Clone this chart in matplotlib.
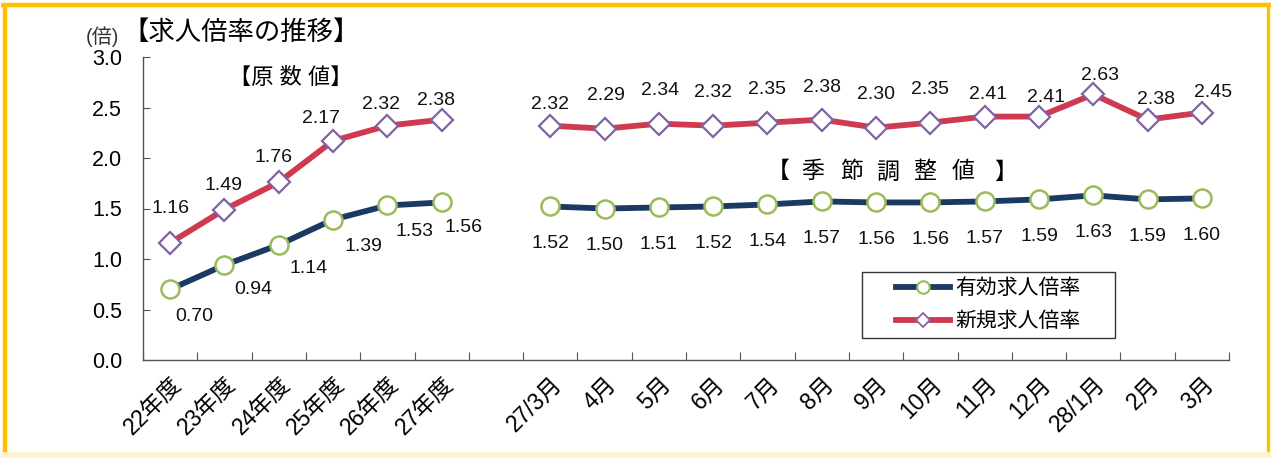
import matplotlib
matplotlib.use("Agg")
import matplotlib.pyplot as plt
from matplotlib.lines import Line2D
from matplotlib.patches import Rectangle
import numpy as np

plt.rcParams['font.family'] = ['Liberation Sans', 'Noto Sans CJK JP']

# データ
categories = ['22年度', '23年度', '24年度', '25年度', '26年度', '27年度', '',
              '27/3月', '4月', '5月', '6月', '7月', '8月', '9月', '10月',
              '11月', '12月', '28/1月', '2月', '3月']
yuko = [0.70, 0.94, 1.14, 1.39, 1.53, 1.56, np.nan,
        1.52, 1.50, 1.51, 1.52, 1.54, 1.57, 1.56, 1.56, 1.57, 1.59, 1.63, 1.59, 1.60]
shinki = [1.16, 1.49, 1.76, 2.17, 2.32, 2.38, np.nan,
          2.32, 2.29, 2.34, 2.32, 2.35, 2.38, 2.30, 2.35, 2.41, 2.41, 2.63, 2.38, 2.45]

# ラベル位置 (pixel, x右 / y下)
yuko_off = [(24, 27), (29, 24), (30, 24), (30, 27), (27, 26), (22, 25), None] + [(0, 37)] * 13
shinki_off = [(0, -34), (-1, -24), (-5, -25), (-12, -22), (-6, -21), (-6, -19), None,
              (0, -21), (1, -33), (1, -33), (0, -33), (0, -33), (0, -32), (0, -33),
              (0, -33), (3, -22), (7, -19), (7, -19), (8, -20), (11, -20)]

NAVY = '#1B3A63'
RED = '#D03A50'
GREEN = '#9BBB59'
PURPLE = '#8064A2'
W, H = 1272, 458

fig = plt.figure(figsize=(12.72, 4.58), dpi=100)
ax = fig.add_axes([143 / W, 1 - 360 / H, 1086 / W, 303 / H])

x = np.arange(len(categories)) + 0.5

ax.plot(x, yuko, color=NAVY, lw=4.2, marker='o', ms=13, mfc='white',
        mec=GREEN, mew=1.8, zorder=3)
ax.plot(x, shinki, color=RED, lw=4.2, marker='D', ms=11.5, mfc='white',
        mec=PURPLE, mew=1.6, zorder=3)

px = 0.72  # pixel -> point
for i, (a, b) in enumerate(zip(yuko, shinki)):
    if np.isnan(a):
        continue
    oa = yuko_off[i]
    ob = shinki_off[i]
    ax.annotate('%.2f' % a, (x[i], a), xytext=(oa[0] * px, -oa[1] * px),
                textcoords='offset points', ha='center', va='center',
                fontsize=14, color='#111111')
    ax.annotate('%.2f' % b, (x[i], b), xytext=(ob[0] * px, -ob[1] * px),
                textcoords='offset points', ha='center', va='center',
                fontsize=14, color='#111111')

ax.set_xlim(0, len(categories))
ax.set_ylim(0, 3.0)
yt = np.arange(0, 3.01, 0.5)
ax.set_yticks(yt)
ax.set_yticklabels(['%.1f' % v for v in yt], fontsize=15.5)
ax.set_xticks(np.arange(0, len(categories) + 1))
ax.set_xticklabels([])
ax.set_xticks(x, minor=True)
ax.set_xticklabels(categories, minor=True, rotation=45, ha='right', va='top',
                   rotation_mode='anchor', fontsize=16.5)
ax.tick_params(axis='x', which='minor', length=0, pad=9)
ax.tick_params(axis='x', which='major', direction='in', length=6, color='#555555')
ax.tick_params(axis='y', direction='in', length=5, color='#555555', pad=15)
for s in ['top', 'right']:
    ax.spines[s].set_visible(False)
for s in ['left', 'bottom']:
    ax.spines[s].set_color('#555555')
    ax.spines[s].set_linewidth(1.0)

# 見出し
fig.text(291 / W, 1 - 78 / H, '【原 数 値】', ha='center', va='center', fontsize=16)
for ch, cx in zip('季節調整値', [813, 852, 888, 925, 963]):
    fig.text(cx / W, 1 - 172 / H, ch, ha='center', va='center', fontsize=16.5)
fig.text(790 / W, 1 - 172 / H, '【', ha='right', va='center', fontsize=16.5)
fig.text(994 / W, 1 - 172 / H, '】', ha='left', va='center', fontsize=16.5)
fig.text(122 / W, 1 - 33 / H, '【求人倍率の推移】', ha='left', va='center', fontsize=19)
fig.text(86 / W, 1 - 37 / H, '(倍)', ha='left', va='center', fontsize=14.5,
         color='#333333')

# 凡例
fig.add_artist(Rectangle((862 / W, 1 - 338 / H), 253 / W, 66 / H,
                         transform=fig.transFigure, fill=False,
                         edgecolor='#333333', lw=1.0))
handles = [
    Line2D([], [], color=NAVY, lw=4.2, marker='o', ms=9, mfc='white', mec=GREEN, mew=1.5),
    Line2D([], [], color=RED, lw=4.2, marker='D', ms=7.5, mfc='white', mec=PURPLE, mew=1.3),
]
leg = ax.legend(handles, ['有効求人倍率', '新規求人倍率'], loc='center left',
                bbox_to_anchor=(896 / W, 1 - 305 / H), bbox_transform=fig.transFigure,
                fontsize=15, handlelength=2.6, handletextpad=0.25, frameon=False,
                borderpad=0, borderaxespad=0, labelspacing=0.65)

# 外枠
def fl(x0, y0, x1, y1, c, lw):
    fig.add_artist(Line2D([x0 / W, x1 / W], [1 - y0 / H, 1 - y1 / H], color=c,
                          lw=lw, transform=fig.transFigure, solid_capstyle='butt'))
fl(1, 5, 1271, 5, '#FFC000', 3.2)
fl(5, 3, 5, 456, '#FFC000', 3.2)
fl(1268, 3, 1268, 456, '#FFC000', 2.4)
fl(1, 455, 1271, 455, '#FFF2CC', 4)

fig.savefig('out.png', dpi=100)
